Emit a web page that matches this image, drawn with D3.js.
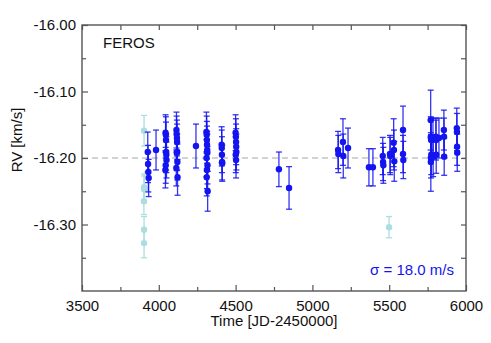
<!DOCTYPE html>
<html><head><meta charset="utf-8">
<script src="https://cdn.jsdelivr.net/npm/d3@7"></script>
<style>body{margin:0;background:#fff}svg{display:block}text{font-family:"Liberation Sans",Arial,sans-serif}</style>
</head><body>
<svg id="c" width="491" height="343"></svg>
<script>
// Dark (used) FEROS measurements
const darkTime = [3928,3930,3932,3934, 3982,
  4044,4046,4047,4048,4049,4050,4045,4043,
  4115,4116,4118,4119,4120,4117,4121,4114,4122,
  4242,
  4310,4312,4313,4314,4315,4316,4311,4317,4313,4312,4318,
  4409,4410,4411,4412,4413,
  4500,4502,4503,4504,4505,4501,4503,
  4782,4848,
  5167,5169,5199,5201,5232,5368,5394,
  5458,5460,5462,5505,5507,5529,5531,5533,5590,5590,5592,
  5770,5771,5772,5773,5774,5772,5771,5785,5786,5804,5805,5806,5824,
  5856,5857,5858,5940,5941,5942,5943];
const darkRV = [-16.191,-16.209,-16.221,-16.230, -16.188,
  -16.162,-16.165,-16.173,-16.191,-16.195,-16.203,-16.211,-16.218,
  -16.158,-16.164,-16.170,-16.176,-16.191,-16.192,-16.206,-16.215,-16.229,
  -16.182,
  -16.161,-16.165,-16.173,-16.180,-16.188,-16.192,-16.200,-16.211,-16.218,-16.229,-16.250,
  -16.180,-16.185,-16.195,-16.206,-16.208,
  -16.162,-16.168,-16.176,-16.183,-16.191,-16.195,-16.203,
  -16.217,-16.245,
  -16.188,-16.194,-16.176,-16.197,-16.185,-16.214,-16.214,
  -16.197,-16.206,-16.211,-16.194,-16.197,-16.177,-16.188,-16.205,-16.158,-16.194,-16.203,
  -16.143,-16.168,-16.170,-16.173,-16.195,-16.200,-16.206,-16.170,-16.198,-16.168,-16.173,-16.195,-16.170,
  -16.158,-16.168,-16.198,-16.155,-16.161,-16.183,-16.192];
const darkErr = [0.030,0.028,0.030,0.028, 0.030,
  0.027,0.027,0.027,0.027,0.027,0.027,0.027,0.027,
  0.027,0.027,0.027,0.027,0.027,0.027,0.027,0.027,0.027,
  0.033,
  0.030,0.028,0.028,0.028,0.028,0.028,0.028,0.028,0.028,0.028,0.030,
  0.027,0.027,0.027,0.027,0.027,
  0.027,0.027,0.027,0.027,0.027,0.027,0.027,
  0.026,0.032,
  0.028,0.028,0.035,0.033,0.030,0.028,0.028,
  0.028,0.028,0.027,0.028,0.028,0.036,0.030,0.030,0.036,0.028,0.028,
  0.045,0.030,0.030,0.030,0.030,0.030,0.044,0.030,0.030,0.028,0.030,0.028,0.030,
  0.030,0.028,0.028,0.030,0.028,0.028,0.028];
// Light (rejected) measurements
const lightTime = [3904,3904,3905,3903,3904,3904,5499];
const lightRV = [-16.159,-16.244,-16.247,-16.265,-16.308,-16.328,-16.304];
const lightErr = [0.023,0.020,0.020,0.020,0.020,0.022,0.016];
// Axes
const xTicks = [3500,4000,4500,5000,5500,6000];
const xMinor = [3750,4250,4750,5250,5750];
const yTicks = [-16.00,-16.10,-16.20,-16.30];
const yMinor = [-16.05,-16.15,-16.25,-16.35];
const refLevel = -16.20;
const label = "FEROS";
const sigmaText = "σ = 18.0 m/s";

const L=82,R=466,T=25,B=291;
const svg=d3.select("#c");
const x=d3.scaleLinear().domain([3500,6000]).range([L,R]);
const y=d3.scaleLinear().domain([-16.40,-16.00]).range([B,T]);
const axisCol="#555";

// reference dashed line
svg.append("line").attr("x1",L).attr("x2",R).attr("y1",y(refLevel)).attr("y2",y(refLevel))
  .attr("stroke","#c4c4c4").attr("stroke-width",1.5).attr("stroke-dasharray","6,4");

function drawSet(t,v,e,col,op){
  const g=svg.append("g");
  const d=t.map((ti,i)=>({t:ti,v:v[i],e:e[i]}));
  const cap=3;
  d.forEach(p=>{
    const cx=x(p.t), y1=y(p.v+p.e), y2=y(p.v-p.e);
    g.append("line").attr("x1",cx).attr("x2",cx).attr("y1",y1).attr("y2",y2).attr("stroke",col).attr("stroke-width",1.3).attr("opacity",op);
    g.append("line").attr("x1",cx-cap).attr("x2",cx+cap).attr("y1",y1).attr("y2",y1).attr("stroke",col).attr("stroke-width",1.3).attr("opacity",op);
    g.append("line").attr("x1",cx-cap).attr("x2",cx+cap).attr("y1",y2).attr("y2",y2).attr("stroke",col).attr("stroke-width",1.3).attr("opacity",op);
  });
  g.selectAll("circle").data(d).join("circle").attr("cx",p=>x(p.t)).attr("cy",p=>y(p.v)).attr("r",3.2).attr("fill",col);
}
drawSet(lightTime,lightRV,lightErr,"#acdde2",1);
drawSet(darkTime,darkRV,darkErr,"#1414f0",0.85);

// frame
svg.append("rect").attr("x",L).attr("y",T).attr("width",R-L).attr("height",B-T).attr("fill","none").attr("stroke",axisCol).attr("stroke-width",1.4);

// axes with inward ticks
const fmtY=d3.format(".2f");
const bx=svg.append("g").attr("transform",`translate(0,${B})`).call(d3.axisBottom(x).tickValues(xTicks).tickSize(-6).tickPadding(9).tickFormat(d3.format("d")));
const bxm=svg.append("g").attr("transform",`translate(0,${B})`).call(d3.axisBottom(x).tickValues(xMinor).tickSize(-4).tickFormat(""));
const tx=svg.append("g").attr("transform",`translate(0,${T})`).call(d3.axisTop(x).tickValues(xTicks.concat(xMinor)).tickSize(-5).tickFormat(""));
const ly=svg.append("g").attr("transform",`translate(${L},0)`).call(d3.axisLeft(y).tickValues(yTicks).tickSize(-6).tickPadding(6).tickFormat(d=>fmtY(d).replace("−","-")));
const lym=svg.append("g").attr("transform",`translate(${L},0)`).call(d3.axisLeft(y).tickValues(yMinor).tickSize(-4).tickFormat(""));
const ry=svg.append("g").attr("transform",`translate(${R},0)`).call(d3.axisRight(y).tickValues(yTicks.concat(yMinor)).tickSize(-5).tickFormat(""));
[bx,bxm,tx,ly,lym,ry].forEach(a=>{
  a.select(".domain").remove();
  a.selectAll(".tick line").attr("stroke",axisCol).attr("stroke-width",1.2);
  a.selectAll(".tick text").attr("fill","#111").attr("font-size",15).attr("font-family","Liberation Sans, Arial, sans-serif");
});

svg.append("text").attr("x",(L+R)/2).attr("y",326).attr("text-anchor","middle").attr("font-size",15).attr("fill","#111").text("Time [JD-2450000]");
svg.append("text").attr("transform",`translate(22,${(T+B)/2 - 18}) rotate(-90)`).attr("text-anchor","middle").attr("font-size",15).attr("fill","#111").text("RV [km/s]");
svg.append("text").attr("x",103).attr("y",48).attr("font-size",15).attr("fill","#111").text(label);
svg.append("text").attr("x",454).attr("y",275).attr("text-anchor","end").attr("font-size",15).attr("fill","#1414f0").text(sigmaText);
</script>
</body></html>
